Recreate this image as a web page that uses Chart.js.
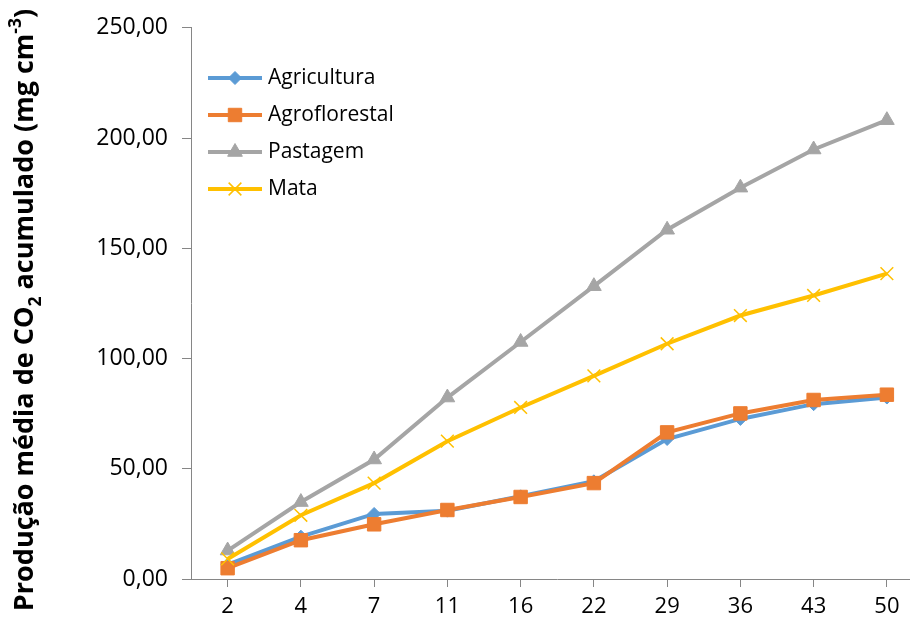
<!DOCTYPE html>
<html>
<head>
<meta charset="utf-8">
<script src="https://cdn.jsdelivr.net/npm/chart.js@4/dist/chart.umd.min.js"></script>
<style>
    html, body { margin: 0; padding: 0; background: #fff; overflow: hidden; }
    #wrap { position: relative; width: 910px; height: 622px; overflow: hidden; }
    #co2Chart { position: absolute; left: 0; top: 0; width: 934px; height: 622px; }
</style>
</head>
<body>
<div id="wrap"><canvas id="co2Chart" width="934" height="622"></canvas></div>
<script>
// days of incubation
var dias = ['2', '4', '7', '11', '16', '22', '29', '36', '43', '50'];

// mean accumulated CO2 per land use
var agricultura   = [6.5, 19.2, 29.5, 31.0, 37.5, 44.3, 63.5, 72.6, 79.3, 82.3];
var agroflorestal = [4.9, 17.6, 24.8, 31.3, 37.2, 43.5, 66.5, 75.1, 81.2, 83.6];
var pastagem      = [12.9, 34.9, 54.2, 82.3, 107.5, 132.8, 158.4, 177.5, 194.8, 208.1];
var mata          = [9.1, 28.9, 43.5, 62.5, 77.8, 92.1, 106.7, 119.5, 128.6, 138.5];

var yTicks = [0, 50, 100, 150, 200, 250];

var FONT = '"Open Sans", sans-serif';
var AXIS_GREY = '#868686';

function serie(label, data, color, style, radius, order, pointWidth) {
    return {
        label: label,
        data: data,
        borderColor: color,
        backgroundColor: color,
        borderWidth: 4,
        pointStyle: style,
        pointRadius: radius,
        pointHoverRadius: radius,
        pointBackgroundColor: color,
        pointBorderColor: color,
        pointBorderWidth: pointWidth,
        tension: 0,
        order: order
    };
}

// legend drawn inside the plot, line + marker like the office style
var insideLegend = {
    id: 'insideLegend',
    afterDraw: function (chart) {
        var ctx = chart.ctx;
        var x0 = 208, y0 = 78, rowH = 37, lineLen = 54;
        ctx.save();
        chart.data.datasets.forEach(function (ds, i) {
            var y = y0 + i * rowH;
            ctx.strokeStyle = ds.borderColor;
            ctx.lineWidth = ds.borderWidth;
            ctx.beginPath();
            ctx.moveTo(x0, y);
            ctx.lineTo(x0 + lineLen, y);
            ctx.stroke();
            ctx.fillStyle = ds.pointBackgroundColor;
            ctx.strokeStyle = ds.pointBorderColor;
            ctx.lineWidth = ds.pointBorderWidth;
            Chart.helpers.drawPoint(ctx, {
                pointStyle: ds.pointStyle,
                radius: ds.pointRadius,
                rotation: 0,
                borderWidth: ds.pointBorderWidth
            }, x0 + lineLen / 2, y);
            ctx.fillStyle = '#000';
            ctx.font = '21px ' + FONT;
            ctx.textBaseline = 'middle';
            ctx.textAlign = 'left';
            ctx.fillText(ds.label, x0 + lineLen + 6, y);
        });
        ctx.restore();
    }
};

// rotated y title with subscript / superscript pieces
var yTitle = {
    id: 'yTitle',
    afterDraw: function (chart) {
        var ctx = chart.ctx;
        var size = 27;
        var parts = [
            { t: 'Produção média de CO', s: 1, dy: 0 },
            { t: '2', s: 0.65, dy: 0.3 },
            { t: ' acumulado (mg cm', s: 1, dy: 0 },
            { t: '-3', s: 0.65, dy: -0.45 },
            { t: ')', s: 1, dy: 0 }
        ];
        ctx.save();
        var total = 0;
        parts.forEach(function (p) {
            ctx.font = 'bold ' + (size * p.s) + 'px ' + FONT;
            p.w = ctx.measureText(p.t).width;
            total += p.w;
        });
        ctx.translate(33, 310);
        ctx.rotate(-Math.PI / 2);
        ctx.fillStyle = '#000';
        ctx.textBaseline = 'alphabetic';
        ctx.textAlign = 'left';
        var x = -total / 2;
        parts.forEach(function (p) {
            ctx.font = 'bold ' + (size * p.s) + 'px ' + FONT;
            ctx.fillText(p.t, x, p.dy * size);
            x += p.w;
        });
        ctx.restore();
    }
};

var ctx = document.getElementById('co2Chart').getContext('2d');
var co2Chart = new Chart(ctx, {
    type: 'line',
    data: {
        labels: dias,
        datasets: [
            serie('Agricultura', agricultura, '#5B9BD5', 'rectRot', 6.5, 4, 1),
            serie('Agroflorestal', agroflorestal, '#ED7D31', 'rect', 9.5, 3, 1),
            serie('Pastagem', pastagem, '#A5A5A5', 'triangle', 8.5, 2, 1),
            serie('Mata', mata, '#FFC000', 'crossRot', 9, 1, 1.5)
        ]
    },
    options: {
        responsive: false,
        animation: false,
        // canvas is a bit wider than the page, plot runs past the right edge
        layout: { padding: { top: 25, right: 2, left: 0, bottom: 0 } },
        plugins: {
            legend: { display: false },
            tooltip: { enabled: false }
        },
        scales: {
            x: {
                offset: true,
                afterFit: function (scale) { scale.height = 43; },
                grid: {
                    drawOnChartArea: false,
                    drawTicks: true,
                    tickLength: 8,
                    color: AXIS_GREY
                },
                border: { display: true, color: AXIS_GREY, width: 1 },
                ticks: {
                    color: '#000',
                    padding: 7,
                    font: { family: FONT, size: 22 }
                }
            },
            y: {
                min: 0,
                max: 250,
                afterFit: function (scale) { scale.width = 191; },
                afterBuildTicks: function (scale) {
                    scale.ticks = yTicks.map(function (v) { return { value: v }; });
                },
                grid: {
                    drawOnChartArea: false,
                    drawTicks: true,
                    tickLength: 9,
                    color: AXIS_GREY
                },
                border: { display: true, color: AXIS_GREY, width: 1 },
                ticks: {
                    color: '#000',
                    padding: 14,
                    font: { family: FONT, size: 23 },
                    callback: function (v) { return v.toFixed(2).replace('.', ','); }
                }
            }
        }
    },
    plugins: [insideLegend, yTitle]
});
</script>
</body>
</html>
